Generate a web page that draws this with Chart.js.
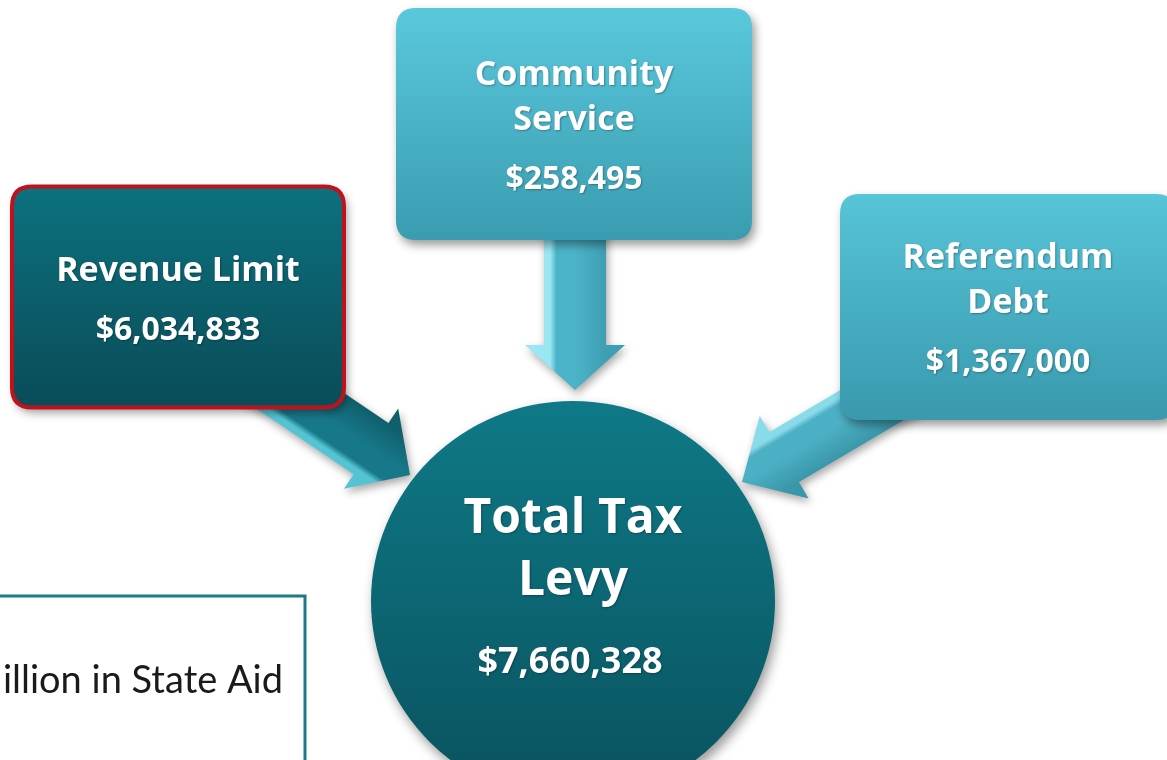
<!DOCTYPE html>
<html>
<head>
<meta charset="utf-8">
<script src="https://cdn.jsdelivr.net/npm/chart.js@4"></script>
<style>
  html, body { margin: 0; padding: 0; background: #ffffff; overflow: hidden; }
  #wrap { width: 1167px; height: 760px; }
</style>
</head>
<body>
<div id="wrap"><canvas id="levyChart" width="1167" height="760"></canvas></div>
<script>
// ============================================================
// DATA
// ============================================================
const sourceLabels = [['Revenue Limit'], ['Community', 'Service'], ['Referendum', 'Debt']];
const sourceValues = [6034833, 258495, 1367000];
const totalLabel = ['Total Tax', 'Levy'];
const totalValue = 7660328;
const noteText = 'Million in State Aid';

// ============================================================
// LAYOUT (pixel units on hidden 0..1167 / 0..760 scales)
// ============================================================
const boxLayout = [
  { cx: 178, cy: 297, w: 332, h: 221, fill: ['#0d717e', '#094c58'], border: '#c0121d' },
  { cx: 574, cy: 124, w: 356, h: 232, fill: ['#5ac8dc', '#3a9cb0'], border: null },
  { cx: 1008, cy: 307, w: 336, h: 226, fill: ['#57c4d8', '#3999ad'], border: null }
];
const totalLayout = { cx: 573, cy: 601, rx: 202, ry: 200 };
const arrowLayout = [
  { from: [225, 350], to: [410, 475], sw: 62, hw: 97, hl: 47, body: '#17788a', dark: '#0f5f6c', light: '#54c4d2' },
  { from: [575, 215], to: [575, 390], sw: 62, hw: 100, hl: 45, body: '#4cb4c8', dark: '#3e9fb2', light: '#9ae6f2' },
  { from: [945, 362], to: [742, 482], sw: 58, hw: 96, hl: 49, body: '#4cb0c4', dark: '#3a97aa', light: '#8adbe9' }
];
const noteBox = { x: -10, y: 596, w: 315, h: 220, textRight: 283, textBase: 693 };

const fmt = v => '$' + v.toLocaleString('en-US');
const boldFont = px => `bold ${px}px "Open Sans", Lato, sans-serif`;

function roundRect(ctx, x, y, w, h, r) {
  ctx.beginPath();
  ctx.moveTo(x + r, y);
  ctx.lineTo(x + w - r, y);
  ctx.quadraticCurveTo(x + w, y, x + w, y + r);
  ctx.lineTo(x + w, y + h - r);
  ctx.quadraticCurveTo(x + w, y + h, x + w - r, y + h);
  ctx.lineTo(x + r, y + h);
  ctx.quadraticCurveTo(x, y + h, x, y + h - r);
  ctx.lineTo(x, y + r);
  ctx.quadraticCurveTo(x, y, x + r, y);
  ctx.closePath();
}

function setShadow(ctx, blur, ox, oy, a) {
  ctx.shadowColor = `rgba(0,0,0,${a})`;
  ctx.shadowBlur = blur;
  ctx.shadowOffsetX = ox;
  ctx.shadowOffsetY = oy;
}

function drawArrow(ctx, sx, sy, tx, ty, a) {
  const ang = Math.atan2(ty - sy, tx - sx);
  const L = Math.hypot(tx - sx, ty - sy);
  ctx.save();
  ctx.translate(sx, sy);
  ctx.rotate(ang);
  ctx.beginPath();
  ctx.moveTo(0, -a.sw / 2);
  ctx.lineTo(L - a.hl, -a.sw / 2);
  ctx.lineTo(L - a.hl, -a.hw / 2);
  ctx.lineTo(L, 0);
  ctx.lineTo(L - a.hl, a.hw / 2);
  ctx.lineTo(L - a.hl, a.sw / 2);
  ctx.lineTo(0, a.sw / 2);
  ctx.closePath();
  const g = ctx.createLinearGradient(0, -a.sw / 2, 0, a.sw / 2);
  g.addColorStop(0, a.dark);
  g.addColorStop(0.5, a.body);
  g.addColorStop(0.8, a.body);
  g.addColorStop(0.9, a.light);
  g.addColorStop(1, a.light);
  setShadow(ctx, 8, 2, 4, 0.35);
  ctx.fillStyle = g;
  ctx.fill();
  ctx.restore();
}

// ============================================================
// DIAGRAM PLUGIN
// ============================================================
const levyDiagram = {
  id: 'levyDiagram',
  beforeDatasetsDraw(chart) {
    const { ctx, scales: { x, y } } = chart;
    ctx.save();
    // note box (bottom left)
    const nx = x.getPixelForValue(noteBox.x), ny = y.getPixelForValue(noteBox.y);
    ctx.fillStyle = '#ffffff';
    ctx.fillRect(nx, ny, noteBox.w, noteBox.h);
    ctx.strokeStyle = '#1b7b87';
    ctx.lineWidth = 3;
    ctx.strokeRect(nx, ny, noteBox.w, noteBox.h);
    ctx.fillStyle = '#1a1a1a';
    ctx.font = '38px Lato, "Open Sans", sans-serif';
    ctx.textAlign = 'right';
    ctx.textBaseline = 'alphabetic';
    ctx.fillText(noteText, x.getPixelForValue(noteBox.textRight), y.getPixelForValue(noteBox.textBase), 318);

    // arrows
    arrowLayout.forEach(a => {
      drawArrow(ctx, x.getPixelForValue(a.from[0]), y.getPixelForValue(a.from[1]),
        x.getPixelForValue(a.to[0]), y.getPixelForValue(a.to[1]), a);
    });
    ctx.restore();
  },
  afterDatasetsDraw(chart) {
    const { ctx } = chart;
    const boxes = chart.getDatasetMeta(0).data;
    const totalPt = chart.getDatasetMeta(1).data[0];

    // source boxes
    boxes.forEach((pt, i) => {
      const b = boxLayout[i];
      const bx = pt.x - b.w / 2, by = pt.y - b.h / 2;
      ctx.save();
      roundRect(ctx, bx, by, b.w, b.h, 20);
      const g = ctx.createLinearGradient(0, by, 0, by + b.h);
      g.addColorStop(0, b.fill[0]);
      g.addColorStop(1, b.fill[1]);
      setShadow(ctx, 10, 3, 5, 0.4);
      ctx.fillStyle = g;
      ctx.fill();
      setShadow(ctx, 0, 0, 0, 0);
      if (b.border) {
        ctx.strokeStyle = b.border;
        ctx.lineWidth = 4;
        ctx.stroke();
      }
      // text
      const lines = sourceLabels[i];
      const lh = 45, gap = 59;
      const block = (lines.length - 1) * lh + gap;
      let base = pt.y + 13 - block / 2;
      ctx.fillStyle = '#ffffff';
      ctx.textAlign = 'center';
      ctx.textBaseline = 'alphabetic';
      setShadow(ctx, 2, 1, 1, 0.3);
      ctx.font = boldFont(34);
      lines.forEach((ln, k) => ctx.fillText(ln, pt.x, base + k * lh));
      ctx.font = boldFont(32);
      ctx.fillText(fmt(sourceValues[i]), pt.x, base + (lines.length - 1) * lh + gap);
      ctx.restore();
    });

    // total circle
    ctx.save();
    const t = totalLayout;
    ctx.beginPath();
    ctx.ellipse(totalPt.x, totalPt.y, t.rx, t.ry, 0, 0, Math.PI * 2);
    const cg = ctx.createLinearGradient(0, totalPt.y - t.ry, 0, totalPt.y + t.ry);
    cg.addColorStop(0, '#0f7987');
    cg.addColorStop(1, '#09525e');
    setShadow(ctx, 12, 3, 6, 0.4);
    ctx.fillStyle = cg;
    ctx.fill();
    setShadow(ctx, 2, 1, 1, 0.3);
    ctx.fillStyle = '#ffffff';
    ctx.textAlign = 'center';
    ctx.textBaseline = 'alphabetic';
    const base = totalPt.y - 68;
    ctx.font = boldFont(48);
    totalLabel.forEach((ln, k) => ctx.fillText(ln, totalPt.x, base + k * 62));
    ctx.font = boldFont(36);
    ctx.fillText(fmt(totalValue), totalPt.x - 3, base + 62 + 78);
    ctx.restore();
  }
};

// ============================================================
// CHART
// ============================================================
const ctx = document.getElementById('levyChart').getContext('2d');
const levyChart = new Chart(ctx, {
  type: 'scatter',
  data: {
    datasets: [
      { label: 'Sources', data: sourceValues.map((v, i) => ({ x: boxLayout[i].cx, y: boxLayout[i].cy, v })), pointRadius: 0 },
      { label: totalLabel.join(' '), data: [{ x: totalLayout.cx, y: totalLayout.cy, v: totalValue }], pointRadius: 0 }
    ]
  },
  options: {
    responsive: false,
    animation: false,
    events: [],
    layout: { padding: 0 },
    plugins: { legend: { display: false }, tooltip: { enabled: false } },
    scales: {
      x: { type: 'linear', min: 0, max: 1167, display: false },
      y: { type: 'linear', min: 0, max: 760, reverse: true, display: false }
    }
  },
  plugins: [levyDiagram]
});
</script>
</body>
</html>
